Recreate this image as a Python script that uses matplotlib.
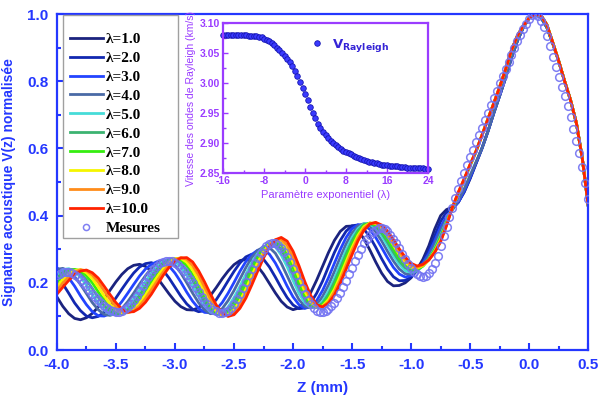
import numpy as np
import matplotlib.pyplot as plt
from matplotlib.patches import Rectangle
from matplotlib.ticker import MultipleLocator

plt.rcParams['font.family'] = ['Liberation Sans', 'DejaVu Sans']
plt.rcParams['axes.unicode_minus'] = False

BLUE = '#2437ff'
PURPLE = '#9a3cff'

#### Donnees ####

# grille des courbes simulees : -4.0 a 0.5 mm, pas 0.05
z_start, z_end = -4.0, 0.5

lambda_labels = ['λ=1.0', 'λ=2.0', 'λ=3.0', 'λ=4.0', 'λ=5.0',
                 'λ=6.0', 'λ=7.0', 'λ=8.0', 'λ=9.0', 'λ=10.0']
line_colors = ['#1b237e', '#1228b0', '#2344ff', '#4a6aa6', '#46dcd8',
               '#3cb371', '#35ee10', '#f5f500', '#ff8c1a', '#ff2200']

# partie oscillante (-4.00 .. -0.45)
v_lam1 = [.158, .130, .108, .094, .090, .096, .109, .128, .152, .178, .203, .225, .242, .252,
          .255, .249, .235, .215, .191, .167, .145, .129, .120, .119, .126, .141, .162, .186,
          .212, .235, .254, .266, .270, .265, .249, .226, .198, .170, .145, .128, .120, .125,
          .142, .171, .208, .249, .290, .326, .353, .368, .369, .356, .331, .298, .262, .229,
          .204, .191, .192, .200, .215, .240, .270, .310, .360, .400, .418, .425, .440, .470,
          .510, .555]
v_lam2 = [.222, .197, .169, .140, .117, .101, .096, .100, .112, .131, .155, .181, .206, .229,
          .247, .257, .260, .253, .237, .214, .187, .160, .137, .121, .114, .117, .130, .150,
          .177, .206, .234, .259, .277, .285, .284, .270, .247, .217, .185, .156, .134, .123,
          .125, .140, .169, .205, .248, .290, .326, .354, .370, .372, .360, .337, .306, .272,
          .241, .218, .206, .207, .217, .236, .262, .296, .340, .383, .410, .422, .440, .472,
          .512, .556]
v_lam3 = [.244, .234, .215, .190, .161, .135, .114, .102, .101, .108, .123, .144, .169, .195,
          .220, .241, .255, .263, .262, .250, .229, .202, .172, .145, .124, .112, .111, .121,
          .141, .169, .201, .234, .263, .284, .297, .298, .285, .259, .226, .190, .158, .135,
          .124, .129, .147, .177, .215, .258, .299, .335, .361, .373, .372, .359, .335, .305,
          .274, .246, .226, .217, .222, .236, .258, .287, .325, .366, .398, .418, .440, .474,
          .514, .557]
v_lam4 = [.240, .243, .235, .218, .195, .168, .141, .120, .106, .103, .109, .123, .144, .169,
          .196, .221, .243, .259, .266, .265, .252, .229, .200, .169, .141, .120, .108, .110,
          .123, .147, .177, .211, .245, .275, .296, .307, .305, .288, .258, .221, .183, .150,
          .130, .125, .135, .159, .193, .233, .276, .316, .348, .369, .376, .370, .352, .325,
          .294, .265, .241, .227, .226, .235, .254, .280, .315, .355, .390, .418, .445, .480,
          .520, .560]
v_lam5 = [.227, .239, .242, .234, .217, .193, .165, .139, .119, .107, .106, .114, .129, .152,
          .178, .204, .230, .250, .264, .269, .264, .247, .222, .190, .159, .132, .113, .106,
          .111, .128, .156, .189, .225, .260, .287, .307, .314, .307, .283, .248, .207, .169,
          .140, .126, .128, .145, .175, .213, .256, .298, .335, .361, .376, .375, .362, .340,
          .311, .280, .255, .236, .231, .236, .250, .272, .303, .342, .384, .424, .464, .505,
          .548, .590]
v_lam6 = [.215, .231, .240, .239, .228, .209, .183, .157, .132, .115, .107, .109, .120, .139,
          .163, .190, .217, .241, .259, .269, .270, .259, .237, .208, .174, .144, .120, .107,
          .106, .118, .142, .174, .211, .248, .280, .305, .318, .317, .299, .266, .225, .185,
          .151, .130, .127, .139, .165, .202, .243, .286, .325, .355, .374, .377, .368, .348,
          .321, .291, .264, .245, .236, .238, .251, .271, .300, .338, .381, .424, .465, .506,
          .549, .591]
v_lam7 = [.202, .221, .235, .240, .236, .221, .200, .173, .148, .126, .112, .108, .114, .128,
          .150, .175, .203, .229, .250, .265, .272, .268, .251, .224, .191, .158, .129, .110,
          .103, .109, .128, .159, .195, .234, .272, .303, .318, .323, .312, .284, .245, .201,
          .163, .136, .127, .135, .156, .190, .231, .274, .315, .348, .370, .378, .372, .356,
          .331, .302, .274, .253, .241, .240, .250, .269, .297, .333, .377, .424, .466, .507,
          .550, .591]
v_lam8 = [.189, .210, .227, .237, .239, .230, .212, .188, .161, .137, .119, .110, .111, .121,
          .140, .164, .191, .218, .243, .261, .272, .273, .261, .238, .206, .172, .140, .115,
          .103, .105, .120, .146, .181, .221, .260, .292, .316, .326, .322, .298, .261, .216,
          .174, .142, .128, .131, .150, .180, .220, .263, .305, .341, .367, .378, .376, .363,
          .340, .312, .284, .261, .246, .243, .251, .268, .294, .329, .374, .424, .467, .508,
          .551, .591]
v_lam9 = [.177, .199, .218, .232, .239, .236, .223, .202, .176, .151, .129, .115, .111, .116,
          .131, .153, .179, .206, .232, .253, .269, .275, .270, .251, .222, .187, .153, .124,
          .105, .101, .111, .134, .168, .207, .247, .284, .312, .328, .330, .312, .278, .233,
          .188, .151, .130, .129, .143, .172, .209, .252, .296, .333, .362, .377, .378, .367,
          .346, .320, .293, .268, .252, .246, .253, .268, .292, .325, .372, .425, .469, .509,
          .552, .592]
v_lam10 = [.166, .187, .207, .225, .235, .238, .230, .214, .190, .165, .141, .122, .113, .114,
           .124, .142, .166, .194, .222, .246, .264, .274, .275, .262, .236, .203, .167, .134,
           .111, .100, .105, .124, .154, .193, .234, .274, .306, .328, .335, .324, .294, .251,
           .203, .162, .135, .128, .139, .163, .199, .241, .284, .325, .356, .375, .380, .372,
           .354, .329, .301, .276, .258, .250, .255, .268, .290, .322, .370, .425, .470, .510,
           .553, .592]

# pic principal (-0.40 .. 0.50)
flank_dark = [.600, .650, .705, .757, .810, .870, .920, .960, .988, .999,
              .990, .960, .912, .860, .800, .744, .675, .570, .430]
flank_bright = [.639, .687, .734, .783, .835, .892, .935, .965, .988, .999,
                .996, .968, .915, .860, .800, .744, .675, .570, .430]

# mesures : -4.0 a 0.5 mm, pas 0.025
v_mesures = [.222, .227, .231, .232,
             .231, .228, .223, .216, .208, .199, .189, .179, .168, .158, .148, .139, .130, .124,
             .118, .115, .113,
             .114, .116, .121, .129, .138, .149, .162, .176, .190, .203, .217, .229, .241, .250,
             .258, .263, .266,
             .266, .264, .260, .253, .245, .235, .224, .212, .199, .185, .172, .159, .147, .137,
             .127, .120, .115, .111,
             .110, .112, .117, .125, .137, .151, .166, .184, .203, .222, .240, .258, .275, .289,
             .301, .310, .316, .318,
             .317, .312, .304, .292, .277, .261, .242, .223, .203, .184, .166, .150, .136, .125,
             .117, .113,
             .112, .115, .121, .130, .141, .155, .170, .188, .206, .225, .245, .264, .283, .301,
             .317, .331, .343, .352, .358, .362,
             .362, .359, .353, .343, .331, .318, .303, .287, .271, .257, .244, .233, .225, .220,
             .218, .221, .228, .241, .259, .281, .309, .338, .367, .396, .424, .452, .478, .503,
             .527, .550, .573, .596, .618, .640, .662, .684, .706, .728, .750, .772, .794, .816,
             .837, .858, .879, .899, .919, .938, .955, .971, .985, .996, .999, .993, .980, .960,
             .935, .905, .872, .843, .813, .784, .755, .725, .692, .658, .622, .585, .545, .497,
             .450]

# encart : vitesse de Rayleigh, lambda de -16 a 24, pas 0.5
lam_start, lam_end = -16.0, 24.0
v_rayleigh = [3.080, 3.080, 3.080, 3.080, 3.080, 3.080, 3.080, 3.080, 3.080, 3.080, 3.079, 3.079,
              3.079, 3.078, 3.077, 3.076, 3.074, 3.072, 3.070, 3.067, 3.063, 3.059, 3.055, 3.050,
              3.045, 3.040, 3.035, 3.028, 3.020, 3.011, 3.002, 2.992, 2.982, 2.971, 2.960, 2.950,
              2.941, 2.932, 2.925, 2.918, 2.913, 2.908, 2.904, 2.900, 2.897, 2.893, 2.890, 2.887,
              2.885, 2.883, 2.881, 2.879, 2.877, 2.875, 2.873, 2.872, 2.870, 2.869, 2.868, 2.867,
              2.866, 2.865, 2.864, 2.863, 2.863, 2.862, 2.862, 2.861, 2.861, 2.860, 2.860, 2.860,
              2.859, 2.859, 2.859, 2.858, 2.858, 2.858, 2.858, 2.857, 2.857]

curves = [v_lam1 + flank_dark, v_lam2 + flank_dark, v_lam3 + flank_dark, v_lam4 + flank_dark,
          v_lam5 + flank_bright, v_lam6 + flank_bright, v_lam7 + flank_bright,
          v_lam8 + flank_bright, v_lam9 + flank_bright, v_lam10 + flank_bright]


#### Figure principale ####

fig = plt.figure(figsize=(5.99, 4.0), dpi=100)
ax = fig.add_axes([0.095, 0.125, 0.887, 0.84])

for vals, col, lab in zip(curves, line_colors, lambda_labels):
    z = np.linspace(z_start, z_end, len(vals))
    ax.plot(z, vals, color=col, lw=2.0, label=lab, zorder=2)

z_mes = np.linspace(z_start, z_end, len(v_mesures))
ax.plot(z_mes, v_mesures, 'o', ms=5.5, mfc='none', mec='#7272f2', mew=1.1,
        alpha=0.9, label='Mesures', zorder=3)

ax.set_xlim(-4.0, 0.5)
ax.set_ylim(0.0, 1.0)
xt = np.arange(-4.0, 0.51, 0.5)
ax.set_xticks(xt)
ax.set_xticklabels(['%.1f' % v for v in xt])
yt = np.arange(0.0, 1.01, 0.2)
ax.set_yticks(yt)
ax.set_yticklabels(['%.1f' % v for v in yt])
ax.xaxis.set_minor_locator(MultipleLocator(0.25))
ax.yaxis.set_minor_locator(MultipleLocator(0.1))
ax.tick_params(which='both', direction='in', color=BLUE, width=1.5)
ax.tick_params(which='major', length=5, pad=6, labelsize=11, labelcolor=BLUE)
ax.tick_params(which='minor', length=3)
for lbl in ax.get_xticklabels() + ax.get_yticklabels():
    lbl.set_fontweight('bold')
for sp in ax.spines.values():
    sp.set_color(BLUE)
    sp.set_linewidth(1.6)

ax.set_xlabel('Z (mm)', color=BLUE, fontsize=11, fontweight='bold', labelpad=6)
ax.set_ylabel('Signature acoustique V(z) normalisée', color=BLUE, fontsize=10,
              fontweight='bold', labelpad=8)

# cadre de legende
ax.add_patch(Rectangle((0.0115, 0.333), 0.2165, 0.664, transform=ax.transAxes,
                       facecolor='white', edgecolor='#a0a0a0', lw=1.0, zorder=4))
ax.legend(loc='upper left', bbox_to_anchor=(0.024, 0.945), frameon=False,
          prop={'family': ['Liberation Serif', 'DejaVu Serif'], 'weight': 'bold', 'size': 11},
          handlelength=2.2, handletextpad=0.15, labelspacing=0.34, borderpad=0,
          borderaxespad=0, markerscale=0.8).set_zorder(5)


#### Encart ####

ax_in = fig.add_axes([0.3725, 0.5675, 0.342, 0.375])
lam = np.linspace(lam_start, lam_end, len(v_rayleigh))
ax_in.plot(lam, v_rayleigh, 'o', ms=4, mfc='#3a3aff', mec='#1515b0', mew=0.6,
           clip_on=False, label=r'$\mathbf{V}_{\mathbf{Rayleigh}}$')
ax_in.set_xlim(-16, 24)
ax_in.set_ylim(2.85, 3.10)
ax_in.set_xticks([-16, -8, 0, 8, 16, 24])
ax_in.set_xticklabels(['-16', '-8', '0', '8', '16', '24'])
yin = [2.85, 2.90, 2.95, 3.00, 3.05, 3.10]
ax_in.set_yticks(yin)
ax_in.set_yticklabels(['%.2f' % v for v in yin])
ax_in.xaxis.set_minor_locator(MultipleLocator(4))
ax_in.yaxis.set_minor_locator(MultipleLocator(0.025))
ax_in.tick_params(which='both', direction='in', color=PURPLE, width=1.0)
ax_in.tick_params(which='major', length=3.5, pad=2, labelsize=7.5, labelcolor=PURPLE)
ax_in.tick_params(which='minor', length=2)
for lbl in ax_in.get_xticklabels() + ax_in.get_yticklabels():
    lbl.set_fontweight('bold')
for sp in ax_in.spines.values():
    sp.set_color(PURPLE)
    sp.set_linewidth(1.6)
ax_in.set_xlabel('Paramètre exponentiel (λ)', color=PURPLE, fontsize=8, labelpad=3)
ax_in.set_ylabel('Vitesse des ondes de Rayleigh (km/s)', color=PURPLE, fontsize=7.5,
                 labelpad=3)
ax_in.legend(loc='upper left', bbox_to_anchor=(0.35, 0.97), frameon=False, fontsize=9.5,
             handletextpad=0.1, labelcolor='#3524d6', borderpad=0.2)

fig.savefig('out.png', dpi=100)
plt.close()
